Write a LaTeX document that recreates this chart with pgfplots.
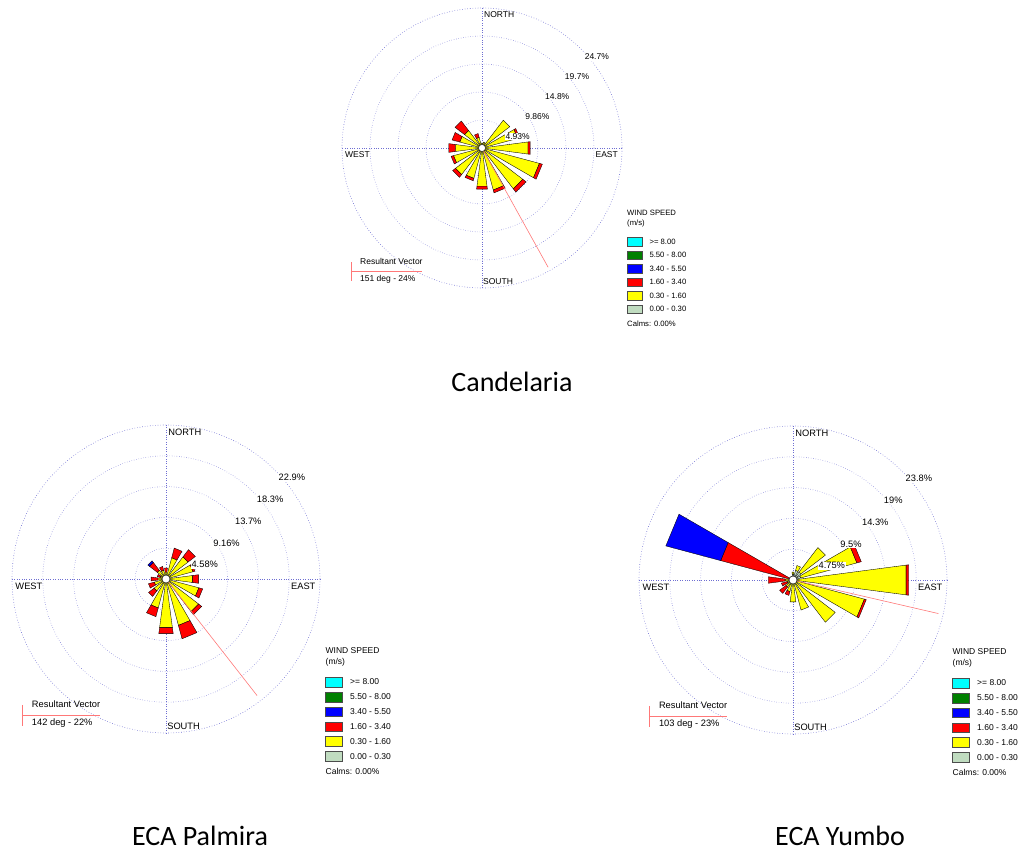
\documentclass[border=0pt]{standalone}
\usepackage{fontspec}
\setmainfont{Liberation Sans}
\newfontfamily\calibri{Carlito}
\usepackage{pgfplots}
\usepackage{pgfplotstable}
\pgfplotsset{compat=1.18}
\usepgfplotslibrary{polar}

\definecolor{gridc}{RGB}{110,110,210}
\definecolor{calmg}{RGB}{192,220,192}
\definecolor{resc}{RGB}{255,120,120}
\definecolor{wgreen}{RGB}{0,128,0}
\definecolor{wcyan}{RGB}{0,255,255}
\definecolor{wblue}{RGB}{0,0,255}
\definecolor{wred}{RGB}{255,0,0}
\definecolor{wyellow}{RGB}{255,255,0}

% cumulative outer radius (percent) of each speed class, per direction
\pgfplotstableread{
dir g y r b
0 0 0.88 0.88 0.88
22.5 0 1.06 1.06 1.06
45 0 6.16 6.16 6.16
67.5 0 6.51 6.86 6.86
90 0 8.18 8.54 8.54
112.5 0 10.47 11.0 11.0
135 0 9.06 9.77 9.77
157.5 0 7.66 8.18 8.18
180 0 6.78 7.3 7.3
202.5 0 5.54 5.98 5.98
225 0 5.9 6.5 6.5
247.5 0 5.19 5.63 5.63
270 0 4.75 5.9 5.9
292.5 0 4.05 5.46 5.46
315 0 3.87 5.98 5.98
337.5 0 1.94 2.64 2.64
}\candtab

\pgfplotstableread{
dir g y r b
0 0 1.04 1.64 1.64
22.5 0 3.27 4.76 4.76
45 0 4.16 5.50 5.50
67.5 0 4.16 4.46 4.46
90 0 4.0 4.9 4.9
112.5 0 5.06 5.65 5.65
135 0 6.1 6.7 6.7
157.5 0 7.14 9.2 9.2
180 0 7.3 8.2 8.2
202.5 0 4.46 5.8 5.8
225 0 2.23 3.27 3.27
247.5 0 1.8 2.7 2.7
270 0 1.2 2.23 2.23
292.5 0 0.9 1.34 1.34
315 0 1.64 3.12 3.42
337.5 0 1.34 1.93 1.93
}\palmtab

\pgfplotstableread{
dir g y r b
0 0.92 1.23 1.23 1.23
22.5 1.54 2.31 2.31 2.31
45 1.54 6.3 6.3 6.3
67.5 1.23 10.2 10.9 10.9
90 0.77 17.6 18.0 18.0
112.5 0.6 11.4 11.7 11.7
135 0 8.2 8.2 8.2
157.5 0 4.8 4.8 4.8
180 0 3.4 3.4 3.4
202.5 0 1.85 2.46 2.46
225 0 1.4 2.6 2.6
247.5 0 0.92 1.85 1.85
270 0 1.23 3.85 3.85
292.5 0 0.6 11.55 20.3
315 0 0.6 0.6 0.6
337.5 0.6 0.6 0.6 0.6
}\yumbotab

\newcommand\hw{7.5}
\newcommand\petal[4]{%
  \ifdim #3pt>#2pt\relax
    \edef\tmp{\noexpand\addplot[draw=black, line width=0.35pt, fill=#4] coordinates {(\fpeval{90-#1-\hw},#2) (\fpeval{90-#1-\hw},#3) (\fpeval{90-#1+\hw},#3) (\fpeval{90-#1+\hw},#2)} --cycle;}%
    \tmp
  \fi}
\newcommand\drawrose[1]{%
  \pgfplotsinvokeforeach{0,...,15}{%
    \pgfplotstablegetelem{##1}{dir}\of{#1}\edef\dd{\pgfplotsretval}%
    \pgfplotstablegetelem{##1}{g}\of{#1}\edef\rg{\pgfplotsretval}%
    \pgfplotstablegetelem{##1}{y}\of{#1}\edef\ry{\pgfplotsretval}%
    \pgfplotstablegetelem{##1}{r}\of{#1}\edef\rr{\pgfplotsretval}%
    \pgfplotstablegetelem{##1}{b}\of{#1}\edef\rb{\pgfplotsretval}%
    \petal{\dd}{0}{\rg}{calmg}%
    \petal{\dd}{\rg}{\ry}{wyellow}%
    \petal{\dd}{\ry}{\rr}{wred}%
    \petal{\dd}{\rr}{\rb}{wblue}%
  }}

\pgfplotsset{roseaxis/.style={scale only axis, anchor=center, ymin=0,
  xtick={0,90,180,270}, xticklabels={}, yticklabels={},
  major tick length=0pt, grid=major,
  major grid style={gridc, dotted, line width=0.6pt},
  x axis line style={gridc, dotted, line width=0.6pt},
  y axis line style={draw=none},
  clip=false}}

% frame texts, legend and resultant-vector key around a rose
\newcommand\decor[6]{%
\begin{scope}[shift={(#1pt,-#2pt)}, x=1pt, y=1pt, scale=#3]
  \begin{scope}[every node/.style={inner sep=0pt, font=\fontsize{#4}{#4}\selectfont}]
  \node[anchor=west] at (2,133) {NORTH};
  \node[anchor=west] at (1,-133.7) {SOUTH};
  \node[anchor=west] at (-137,-7) {WEST};
  \node[anchor=east] at (136,-7) {EAST};
  \draw[resc, line width=0.6pt] (-131,-114.5) -- (-131,-133.5);
  \draw[resc, line width=0.6pt] (-131,-123.7) -- (-60.3,-123.7);
  \node[anchor=west] at (-122,-113.7) {Resultant Vector};
  \node[anchor=west] at (-122,-131) {#6};
  \end{scope}
  \begin{scope}[every node/.style={inner sep=0pt, font=\fontsize{#5}{#5}\selectfont}]
  \node[anchor=west] at (145,-65.3) {WIND SPEED};
  \node[anchor=west] at (145,-76) {(m/s)};
  \foreach \yy/\cc/\lab in {93.7/wcyan/{>= 8.00}, 107.2/wgreen/{5.50 - 8.00}, 120.7/wblue/{3.40 - 5.50}, 134.2/wred/{1.60 - 3.40}, 147.7/wyellow/{0.30 - 1.60}, 161.2/calmg/{0.00 - 0.30}}{
    \filldraw[fill=\cc, draw=black!70, line width=0.4pt] (145,-\yy-4.4) rectangle (160,-\yy+4.4);
    \node[anchor=west] at (167.3,-\yy) {\lab};
  }
  \node[anchor=west] at (145,-175.3) {Calms: 0.00\%};
  \end{scope}
\end{scope}}

\begin{document}
\begin{tikzpicture}[x=1pt,y=1pt]
\path[use as bounding box] (0,0) rectangle (1021,-850);

% ---------------- Candelaria
\begin{polaraxis}[roseaxis, at={(482pt,-148pt)}, width=280pt, height=280pt,
  ymax=24.65, ytick={4.93,9.86,14.79,19.72}]
  \drawrose{\candtab}
  \addplot[resc, line width=0.6pt] coordinates {(-61,0) (-61,24)};
  \draw[fill=white, line width=0.4pt] (axis cs:0,0) circle[radius=3.5pt];
  \begin{scope}[every node/.style={anchor=west, fill=white, inner sep=0.6pt, xshift=3pt, yshift=-8pt, font=\fontsize{8.5}{8.5}\selectfont}]
  \node at (axis cs:45,4.93) {4.93\%};
  \node at (axis cs:45,9.86) {9.86\%};
  \node at (axis cs:45,14.79) {14.8\%};
  \node at (axis cs:45,19.72) {19.7\%};
  \node at (axis cs:45,24.65) {24.7\%};
  \end{scope}
\end{polaraxis}
\decor{482}{148}{1}{8.5}{7.7}{151 deg - 24\%}

% ---------------- ECA Palmira
\begin{polaraxis}[roseaxis, at={(166pt,-579pt)}, width=308pt, height=308pt,
  ymax=22.9, ytick={4.58,9.16,13.74,18.32}]
  \drawrose{\palmtab}
  \addplot[resc, line width=0.6pt] coordinates {(-52,0) (-52,22)};
  \draw[fill=white, line width=0.4pt] (axis cs:0,0) circle[radius=4pt];
  \begin{scope}[every node/.style={anchor=west, fill=white, inner sep=0.6pt, xshift=3pt, yshift=-7.5pt, font=\fontsize{9.3}{9.3}\selectfont}]
  \node at (axis cs:45,4.58) {4.58\%};
  \node at (axis cs:45,9.16) {9.16\%};
  \node at (axis cs:45,13.74) {13.7\%};
  \node at (axis cs:45,18.32) {18.3\%};
  \node at (axis cs:45,22.9) {22.9\%};
  \end{scope}
\end{polaraxis}
\decor{166}{579}{1.1}{9.3}{8.5}{142 deg - 22\%}

% ---------------- ECA Yumbo
\begin{polaraxis}[roseaxis, at={(793pt,-580pt)}, width=308pt, height=308pt,
  ymax=23.75, ytick={4.75,9.5,14.25,19}]
  \drawrose{\yumbotab}
  \addplot[resc, line width=0.6pt] coordinates {(-13,0) (-13,23)};
  \draw[fill=white, line width=0.4pt] (axis cs:0,0) circle[radius=4pt];
  \begin{scope}[every node/.style={anchor=west, fill=white, inner sep=0.6pt, xshift=3pt, yshift=-7.5pt, font=\fontsize{9.3}{9.3}\selectfont}]
  \node at (axis cs:45,4.75) {4.75\%};
  \node at (axis cs:45,9.5) {9.5\%};
  \node at (axis cs:45,14.25) {14.3\%};
  \node at (axis cs:45,19) {19\%};
  \node at (axis cs:45,23.75) {23.8\%};
  \end{scope}
\end{polaraxis}
\decor{793}{580}{1.1}{9.3}{8.5}{103 deg - 23\%}

% ---------------- titles
\node[anchor=base, font=\calibri\fontsize{28}{30}\selectfont] at (512,-392) {Candelaria};
\node[anchor=base, font=\calibri\fontsize{28}{30}\selectfont] at (200,-845) {ECA Palmira};
\node[anchor=base, font=\calibri\fontsize{28}{30}\selectfont] at (840,-845) {ECA Yumbo};
\end{tikzpicture}
\end{document}
